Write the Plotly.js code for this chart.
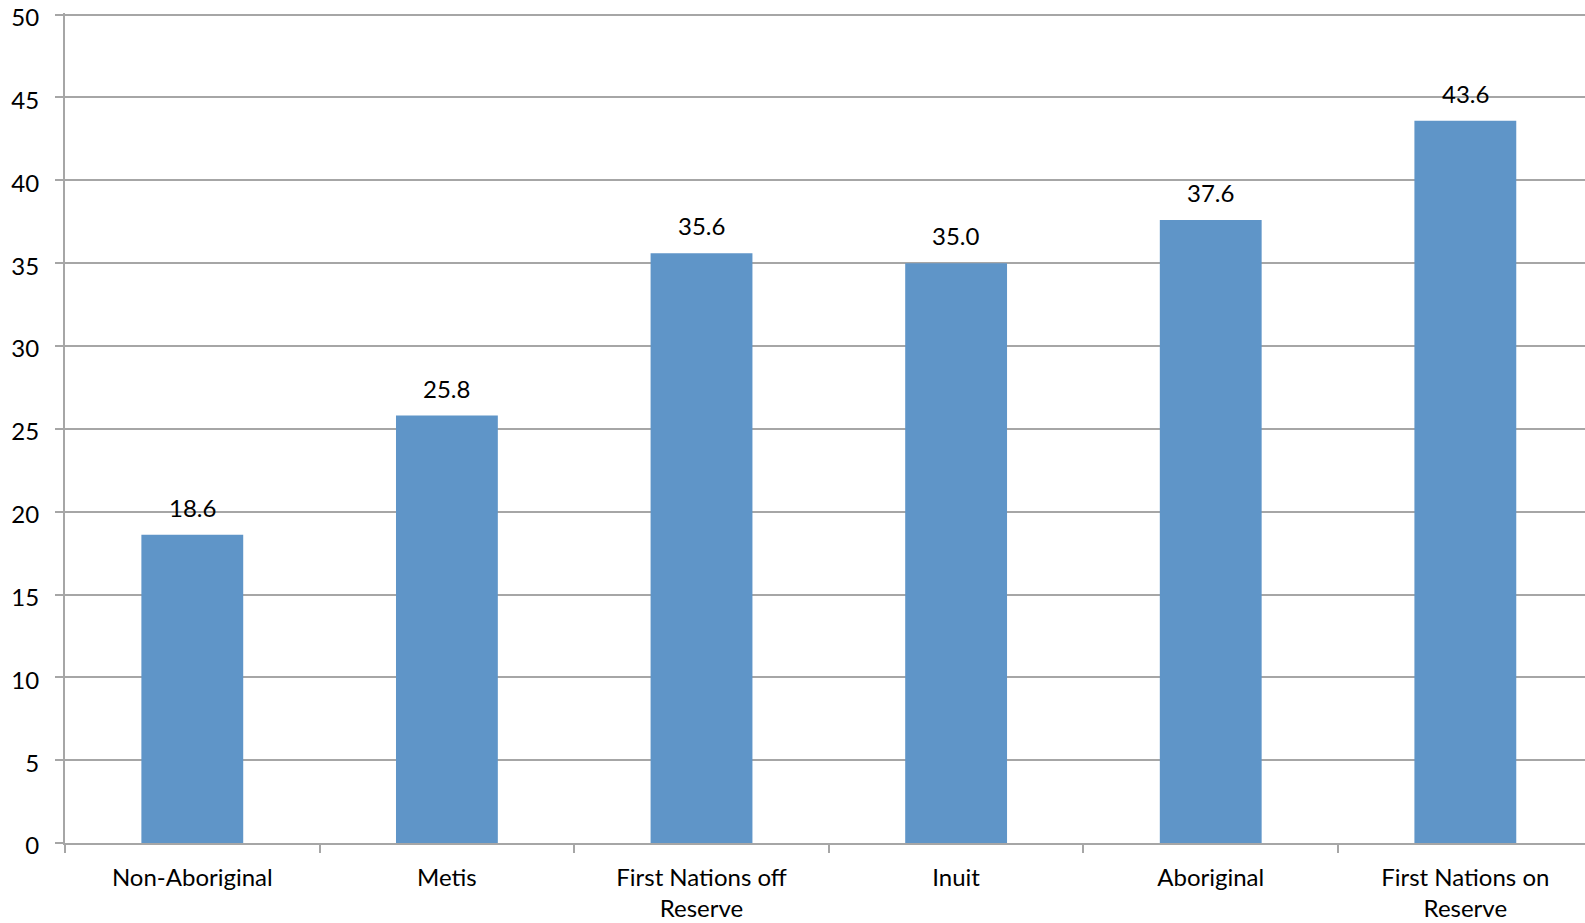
<!DOCTYPE html>
<html>
<head>
<meta charset="utf-8">
<script src="https://cdn.plot.ly/plotly-3.0.1.min.js"></script>
<style>html,body{margin:0;padding:0;background:#fff;}#chart{width:1585px;height:923px;}</style>
</head>
<body>
<div id="chart"></div>
<script>
var categories = ["Non-Aboriginal", "Metis", "First Nations off<br>Reserve", "Inuit", "Aboriginal", "First Nations on<br>Reserve"];
var values = [18.6, 25.8, 35.6, 35.0, 37.6, 43.6];
var valueLabels = ["18.6", "25.8", "35.6", "35.0", "37.6", "43.6"];
var yTicks = [0, 5, 10, 15, 20, 25, 30, 35, 40, 45, 50];

var fontFamily = "Lato, 'Liberation Sans', sans-serif";

var trace = {
  type: "bar",
  x: categories,
  y: values,
  marker: {color: "#5f95c8"},
  hoverinfo: "none"
};

var annotations = categories.map(function(c, i) {
  return {
    x: c, y: values[i], xref: "x", yref: "y",
    text: valueLabels[i], showarrow: false,
    yanchor: "bottom", yshift: 11,
    font: {family: fontFamily, size: 24, color: "#000"}
  };
});

var layout = {
  width: 1585, height: 923,
  margin: {l: 65, r: 0, t: 13, b: 80, pad: 0},
  paper_bgcolor: "#fff", plot_bgcolor: "#fff",
  showlegend: false,
  bargap: 0.6,
  font: {family: fontFamily, size: 24, color: "#000"},
  xaxis: {
    type: "category",
    range: [-0.5, 5.47],
    tickson: "boundaries",
    ticks: "outside", ticklen: 8, tickwidth: 2, tickcolor: "#a6a6a6",
    showgrid: false,
    showline: true, linecolor: "#a6a6a6", linewidth: 2,
    ticklabelstandoff: 12,
    tickfont: {family: fontFamily, size: 24, color: "#000"},
    fixedrange: true
  },
  yaxis: {
    range: [0, 50.1],
    tickvals: yTicks,
    ticktext: yTicks.map(String),
    ticks: "outside", ticklen: 8, tickwidth: 2, tickcolor: "#a6a6a6",
    showgrid: true, gridcolor: "#a6a6a6", gridwidth: 2,
    zeroline: false,
    showline: true, linecolor: "#a6a6a6", linewidth: 2,
    ticklabelstandoff: 11,
    ticklabelshift: 3,
    ticklabeloverflow: "allow",
    tickfont: {family: fontFamily, size: 24, color: "#000"},
    fixedrange: true
  },
  annotations: annotations
};

Plotly.newPlot("chart", [trace], layout, {displayModeBar: false, staticPlot: true});
</script>
</body>
</html>
